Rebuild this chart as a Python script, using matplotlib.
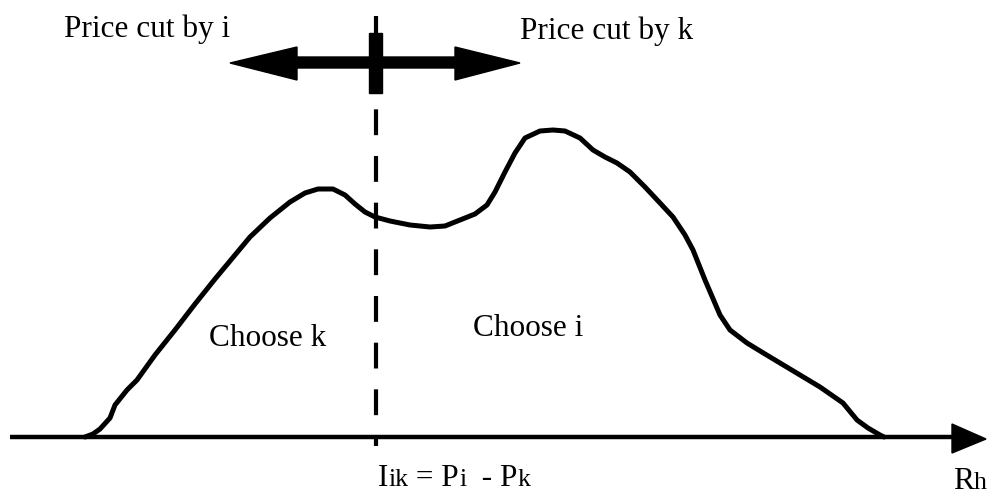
import matplotlib.pyplot as plt
from matplotlib.patches import Polygon

# curve, in pixel coordinates (x right, y down)
curve_x = [85, 93, 100, 110, 115, 127, 137, 155, 175, 195, 215, 235, 250, 270, 290, 305,
           318, 333, 345, 355, 365, 375, 390, 410, 430, 445, 460, 475, 487, 495, 505, 515,
           525, 540, 553, 565, 580, 593, 605, 617, 630, 645, 660, 673, 685, 693, 705, 720,
           730, 747, 765, 780, 800, 820, 843, 857, 868, 880, 884]
curve_y = [437, 434, 429, 418, 405, 390, 380, 355, 330, 304, 279, 255, 237, 218, 202, 193,
           189, 189, 195, 204, 212, 217, 221, 225, 227, 226, 220, 214, 205, 192, 172, 153,
           138, 131, 130, 131, 138, 150, 157, 163, 172, 187, 203, 217, 235, 250, 280, 315,
           330, 343, 354, 363, 375, 387, 403, 420, 428, 435, 437]

labels = {
    'Price cut by i': (64, 29),
    'Price cut by k': (520, 31),
    'Choose k': (209, 339),
    'Choose i': (473, 329),
}

# formula under the axis: (text, is_subscript)
formula = [('I', False), ('ik', True), (' = P', False), ('i', True), ('  - P', False), ('k', True)]
axis_label = [('R', False), ('h', True)]

W, H = 996, 497
fig = plt.figure(figsize=(W / 100, H / 100), dpi=100)
ax = fig.add_axes([0, 0, 1, 1])
ax.set_xlim(0, W)
ax.set_ylim(H, 0)
ax.axis('off')

FONT = 'Liberation Serif'
BIG = 22.5
SMALL = 18.5

# horizontal axis with arrow
ax.plot([10, 958], [437, 437], color='black', lw=3.2, solid_capstyle='butt')
ax.add_patch(Polygon([[952, 424], [986, 439], [952, 453]], closed=True, color='black'))

# dashed divider
ax.plot([376, 376], [16, 446], color='black', lw=3, dashes=(6.2, 5.0))

# density curve
ax.plot(curve_x, curve_y, color='black', lw=3.6, solid_joinstyle='round', solid_capstyle='round')

# double-headed arrow with the thick marker bar
ax.add_patch(Polygon([[230, 63], [297, 47], [297, 57], [455, 57], [455, 47], [520, 63],
                      [455, 80], [455, 68], [297, 68], [297, 80]], closed=True, color='black'))
ax.add_patch(Polygon([[369, 33], [382, 33], [382, 93], [369, 93]], closed=True, color='black'))

for text, (x, y) in labels.items():
    ax.text(x, y, text, ha='left', va='center', family=FONT, fontsize=BIG, color='black')

renderer = fig.canvas.get_renderer()


def run_text(pieces, x, baseline):
    # lay pieces one after another on one baseline, the subscripts in a smaller size
    for text, sub in pieces:
        t = ax.text(x, baseline, text, ha='left', va='baseline', family=FONT,
                    fontsize=SMALL if sub else BIG, color='black')
        bb = t.get_window_extent(renderer=renderer)
        x += bb.width


run_text(formula, 378, 486)
run_text(axis_label, 953, 489)

fig.savefig('out.png', dpi=100)
